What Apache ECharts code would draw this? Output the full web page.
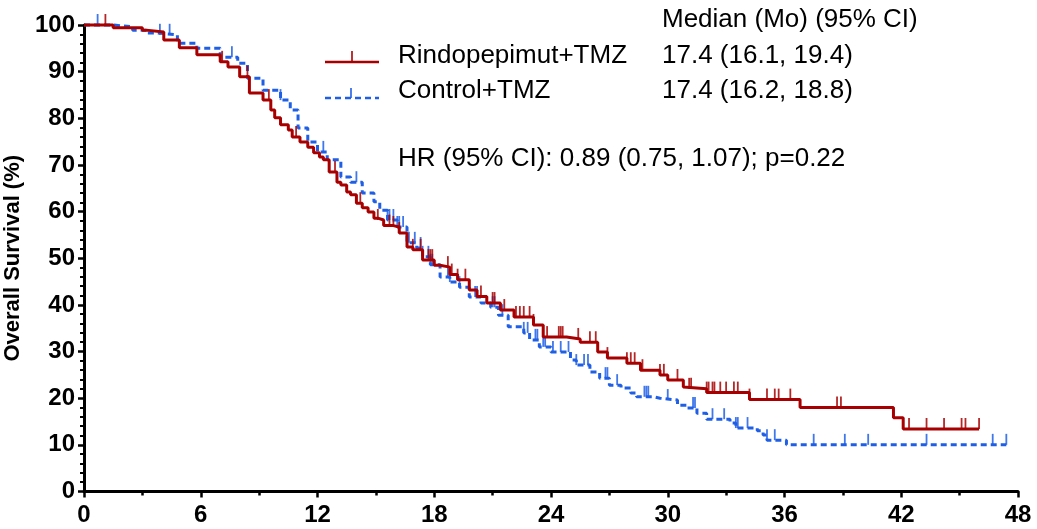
<!DOCTYPE html>
<html><head><meta charset="utf-8">
<script src="https://cdn.jsdelivr.net/npm/echarts@6/dist/echarts.min.js"></script>
<style>html,body{margin:0;padding:0;background:#fff}#c{width:1037px;height:529px}</style>
</head><body><div id="c"></div>
<script>
// ---- data ----
const xTickLabels = ['0','6','12','18','24','30','36','42','48'];
const yTickLabels = ['0','10','20','30','40','50','60','70','80','90','100'];
const seriesNames = ['Rindopepimut+TMZ', 'Control+TMZ'];
const medianHeader = 'Median (Mo) (95% CI)';
const medianText = ['17.4 (16.1, 19.4)', '17.4 (16.2, 18.8)'];
const hrText = 'HR (95% CI): 0.89 (0.75, 1.07); p=0.22';

// Kaplan-Meier step points [month, survival %] (value after each drop)
const rindoCurve = [
  [0,100],[1.5,99.4],[3.0,98.9],[3.2,98.5],[4.1,96.8],[4.9,95.1],[5.8,93.6],[7.0,92.1],
  [7.4,91.0],[8.0,88.9],[8.5,85.4],[9.2,83.9],[9.6,81.8],[9.8,80.1],[10.1,78.6],[10.5,77.5],
  [10.7,76.0],[11.1,74.9],[11.5,73.8],[11.8,72.6],[12.1,71.7],[12.3,71.1],[12.6,68.5],[13.0,66.3],
  [13.2,65.7],[13.5,64.2],[13.7,63.6],[14.0,61.8],[14.3,60.8],[14.6,59.9],[14.9,58.6],[15.1,58.2],
  [15.4,57.0],[15.9,56.7],[16.2,55.4],[16.6,52.4],[16.9,51.8],[17.4,49.6],[18.0,48.5],[18.3,48.1],
  [18.8,46.5],[19.2,45.4],[19.8,43.2],[20.2,41.8],[20.7,40.4],[21.4,38.9],[22.1,37.4],[23.1,35.7],
  [23.6,33.1],[24.8,32.7],[25.5,32.0],[26.4,29.9],[26.9,28.6],[27.9,27.5],[28.6,26.0],[29.6,25.0],
  [30.0,23.9],[30.8,22.4],[30.9,22.0],[32.0,21.2],[34.2,19.7],[36.8,18.0],[41.6,15.8],[42.1,13.4],
  [46.0,13.4]
];
const controlCurve = [
  [0,100],[1.5,99.6],[2.5,98.9],[3.2,98.3],[3.75,97.9],[4.8,96.1],[5.8,95.0],[7.0,93.1],
  [7.9,91.8],[8.4,88.6],[9.2,86.0],[10.1,83.9],[10.6,81.8],[11.0,77.9],[11.5,74.9],[12.0,72.8],
  [12.5,71.1],[13.2,67.4],[13.7,66.3],[14.3,64.0],[14.9,62.1],[15.2,60.3],[15.6,58.2],[16.1,56.7],
  [16.6,53.3],[17.1,52.2],[17.4,50.3],[17.8,48.6],[18.3,46.0],[18.8,44.9],[19.3,43.8],[19.8,41.7],
  [20.4,40.4],[20.9,39.5],[21.3,37.8],[21.8,35.3],[22.6,34.0],[22.9,32.5],[23.4,31.0],[24.0,29.9],
  [25.0,28.2],[25.3,27.1],[26.0,25.6],[26.5,24.3],[27.0,22.8],[27.6,22.2],[28.1,21.1],[28.4,20.3],
  [29.3,20.0],[29.6,19.6],[30.5,18.5],[31.0,17.9],[31.5,16.8],[32.0,15.5],[33.2,14.7],[33.5,13.6],
  [34.6,13.0],[34.9,12.1],[35.1,11.0],[36.1,10.0],[47.4,10.0]
];
// censoring times (months)
const rindoCensor = [1.1,7.1,8.4,9.5,10.9,12.9,14.2,15.1,15.7,15.9,16.2,16.9,17.3,17.7,17.8,17.9,
  18.7,18.9,19.2,19.6,20.4,21.0,21.1,21.6,22.2,22.4,22.6,22.9,23.1,23.8,24.4,24.5,24.6,25.4,26.0,
  26.3,26.9,27.9,28.1,28.3,28.7,29.6,29.8,30.5,31.1,31.2,32.0,32.1,32.3,32.4,32.7,33.0,33.4,33.6,
  34.2,35.1,35.5,35.7,36.3,38.7,38.9,42.4,43.3,44.2,45.1,45.3,46.0];
const controlCensor = [0.7,3.9,4.4,7.6,10.1,12.3,14.0,15.6,15.7,15.9,16.1,16.2,16.4,16.7,17.0,17.3,
  17.4,17.7,17.8,17.9,18.7,18.8,19.3,20.1,20.2,21.0,21.1,21.5,22.6,22.8,23.2,23.3,23.6,23.7,24.1,
  24.5,24.9,25.3,25.7,25.9,26.8,26.9,27.4,28.8,28.9,29.0,30.0,31.3,31.4,32.3,32.9,33.5,33.6,34.1,
  35.1,35.5,37.5,39.1,40.3,43.3,46.7,47.4];

// ---- build ----
function survAt(curve, t) {
  let s = curve[0][1];
  for (const p of curve) { if (p[0] <= t) s = p[1]; else break; }
  return s;
}
const RED = '#a80000', BLUE = '#1f5fe6';
const AX = 'Liberation Sans, Arial, sans-serif';
const chart = echarts.init(document.getElementById('c'), null, {renderer: 'canvas'});
const censorData = (curve, times) => times.map(t => [t, survAt(curve, t)]);

const option = {
  animation: false,
  backgroundColor: '#fff',
  grid: {left: 84, right: 19, top: 25, bottom: 37.5, containLabel: false, outerBoundsMode: 'none'},
  xAxis: {
    type: 'value', min: 0, max: 48, interval: 6,
    axisLine: {show: true, lineStyle: {color: '#000', width: 3}},
    axisTick: {show: true, length: 6, lineStyle: {color: '#000', width: 2.5}},
    minorTick: {show: true, splitNumber: 2, length: 4, lineStyle: {color: '#000', width: 2.5}},
    splitLine: {show: false},
    axisLabel: {color: '#000', fontFamily: AX, fontWeight: 'bold', fontSize: 24, margin: 12,
      formatter: (v) => xTickLabels[Math.round(v / 6)]}
  },
  yAxis: {
    type: 'value', min: 0, max: 100, interval: 10,
    name: 'Overall Survival (%)', nameLocation: 'middle', nameRotate: 90, nameGap: 57,
    nameTextStyle: {color: '#000', fontFamily: AX, fontWeight: 'bold', fontSize: 22},
    axisLine: {show: true, lineStyle: {color: '#000', width: 3}},
    axisTick: {show: true, length: 6, lineStyle: {color: '#000', width: 2.5}},
    minorTick: {show: true, splitNumber: 5, length: 4, lineStyle: {color: '#000', width: 2}},
    splitLine: {show: false},
    axisLabel: {color: '#000', fontFamily: AX, fontWeight: 'bold', fontSize: 24, margin: 9,
      formatter: (v) => yTickLabels[Math.round(v / 10)]}
  },
  series: [
    {name: seriesNames[1], type: 'line', step: 'end', data: controlCurve, showSymbol: false, clip: false,
      lineStyle: {color: BLUE, width: 3, type: [6, 4]}, z: 2},
    {name: seriesNames[0], type: 'line', step: 'end', data: rindoCurve, showSymbol: false, clip: false,
      lineStyle: {color: RED, width: 3}, z: 3},
    {type: 'scatter', data: censorData(controlCurve, controlCensor), symbol: 'rect',
      symbolSize: [1.8, 11], symbolOffset: [0, -5.5], itemStyle: {color: BLUE, opacity: 0.85}, z: 2, clip: false},
    {type: 'scatter', data: censorData(rindoCurve, rindoCensor), symbol: 'rect',
      symbolSize: [1.8, 11], symbolOffset: [0, -5.5], itemStyle: {color: RED, opacity: 0.85}, z: 3, clip: false}
  ],
  graphic: [
    {type: 'line', shape: {x1: 325, y1: 62, x2: 379, y2: 62}, style: {stroke: RED, lineWidth: 2.5}},
    {type: 'line', shape: {x1: 352, y1: 51, x2: 352, y2: 62}, style: {stroke: RED, lineWidth: 1.6}},
    {type: 'line', shape: {x1: 325, y1: 98, x2: 379, y2: 98}, style: {stroke: BLUE, lineWidth: 2.5, lineDash: [6, 4]}},
    {type: 'line', shape: {x1: 351, y1: 88, x2: 351, y2: 98}, style: {stroke: BLUE, lineWidth: 1.6}},
    {type: 'text', left: 662, top: 7, style: {text: medianHeader, fontFamily: AX, fontSize: 26, fill: '#000'}},
    {type: 'text', left: 398, top: 43, style: {text: seriesNames[0], fontFamily: AX, fontSize: 26, fill: '#000'}},
    {type: 'text', left: 662, top: 43, style: {text: medianText[0], fontFamily: AX, fontSize: 26, fill: '#000'}},
    {type: 'text', left: 398, top: 78, style: {text: seriesNames[1], fontFamily: AX, fontSize: 26, fill: '#000'}},
    {type: 'text', left: 662, top: 78, style: {text: medianText[1], fontFamily: AX, fontSize: 26, fill: '#000'}},
    {type: 'text', left: 398, top: 146, style: {text: hrText, fontFamily: AX, fontSize: 26, fill: '#000'}}
  ]
};
chart.setOption(option);
</script>
</body></html>
